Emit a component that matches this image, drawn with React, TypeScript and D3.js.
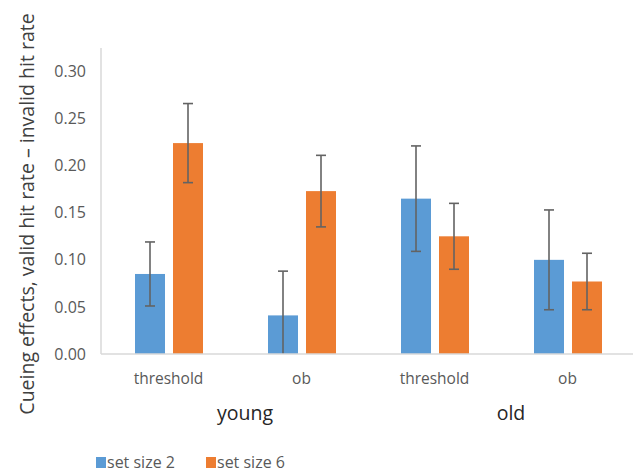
import React from "react";
import * as d3 from "d3";

const groups = ["young", "young", "old", "old"];
const categories = ["threshold", "ob", "threshold", "ob"];
const seriesNames = ["set size 2", "set size 6"];
const setSize2 = [0.085, 0.041, 0.165, 0.1];
const setSize6 = [0.224, 0.173, 0.125, 0.077];
const err2 = [0.034, 0.047, 0.056, 0.053];
const err6 = [0.042, 0.038, 0.035, 0.03];
const yTicks = [0, 0.05, 0.1, 0.15, 0.2, 0.25, 0.3];
const colors = ["#5B9BD5", "#ED7D31"];
const yTitle = "Cueing effects, valid hit rate \u2013 invalid hit rate";

const W = 637;
const H = 472;
const FONT = "'Open Sans', 'DejaVu Sans', sans-serif";

export default function App() {
  const left = 101;
  const right = 633;
  const bottom = 354;
  const top = 48;
  const idx = categories.map((_, i) => String(i));
  const x = d3.scaleBand<string>().domain(idx).range([left, right]).padding(0);
  const inner = d3
    .scaleBand<string>()
    .domain(["0", "1"])
    .range([34, 102])
    .paddingInner(8 / 38)
    .paddingOuter(0);
  const y = d3.scaleLinear().domain([0, 0.325]).range([bottom, top]);
  const fmt = d3.format(".2f");
  const series = [setSize2, setSize6];
  const errs = [err2, err6];

  const groupNames = Array.from(new Set(groups));
  const groupCenters = groupNames.map((g) => {
    const members = idx.filter((i) => groups[+i] === g);
    const x0 = x(members[0])!;
    const x1 = x(members[members.length - 1])! + x.bandwidth();
    return { g, cx: (x0 + x1) / 2 + 11 };
  });

  return (
    <svg
      width={W}
      height={H}
      style={{ position: "absolute", left: 0, top: 0, background: "#fff" }}
      fontFamily={FONT}
    >
      <defs>
        <clipPath id="plot">
          <rect x={left} y={0} width={right - left} height={bottom - 0} />
        </clipPath>
      </defs>
      {/* y title */}
      <text
        transform={`translate(34, 214) rotate(-90)`}
        textAnchor="middle"
        fontSize={19.5}
        fill="#404040"
      >
        {yTitle}
      </text>
      {/* tick labels */}
      {yTicks.map((t) => (
        <text
          key={t}
          x={86}
          y={y(t)}
          dy="0.35em"
          textAnchor="end"
          fontSize={16}
          fill="#595959"
        >
          {fmt(t)}
        </text>
      ))}
      {/* bars */}
      {series.map((vals, s) =>
        vals.map((v, i) => {
          const bx = x(String(i))! + inner(String(s))!;
          return (
            <rect
              key={`b${s}-${i}`}
              x={bx}
              y={y(v)}
              width={inner.bandwidth()}
              height={y(0) - y(v)}
              fill={colors[s]}
            />
          );
        })
      )}
      {/* error bars */}
      <g clipPath="url(#plot)" stroke="#636363" strokeWidth={1.6}>
        {series.map((vals, s) =>
          vals.map((v, i) => {
            const cx = x(String(i))! + inner(String(s))! + inner.bandwidth() / 2;
            const hi = y(v + errs[s][i]);
            const lo = y(v - errs[s][i]);
            return (
              <g key={`e${s}-${i}`}>
                <line x1={cx} x2={cx} y1={hi} y2={lo} />
                <line x1={cx - 5} x2={cx + 5} y1={hi} y2={hi} />
                <line x1={cx - 5} x2={cx + 5} y1={lo} y2={lo} />
              </g>
            );
          })
        )}
      </g>
      {/* axes */}
      <line x1={left} x2={left} y1={top} y2={bottom} stroke="#D9D9D9" strokeWidth={1.5} />
      <line x1={left} x2={right} y1={bottom} y2={bottom} stroke="#D9D9D9" strokeWidth={1.5} />
      {/* category labels */}
      {categories.map((c, i) => (
        <text
          key={`c${i}`}
          x={x(String(i))! + x.bandwidth() / 2 + 1}
          y={384}
          textAnchor="middle"
          fontSize={15.5}
          fill="#595959"
        >
          {c}
        </text>
      ))}
      {groupCenters.map(({ g, cx }) => (
        <text key={g} x={cx} y={420} textAnchor="middle" fontSize={19.5} fill="#262626">
          {g}
        </text>
      ))}
      {/* legend */}
      {seriesNames.map((n, s) => {
        const lx = 96 + s * 110;
        return (
          <g key={n}>
            <rect x={lx} y={457} width={10} height={11} fill={colors[s]} />
            <text x={lx + 11} y={468} fontSize={16} fill="#595959">
              {n}
            </text>
          </g>
        );
      })}
    </svg>
  );
}
